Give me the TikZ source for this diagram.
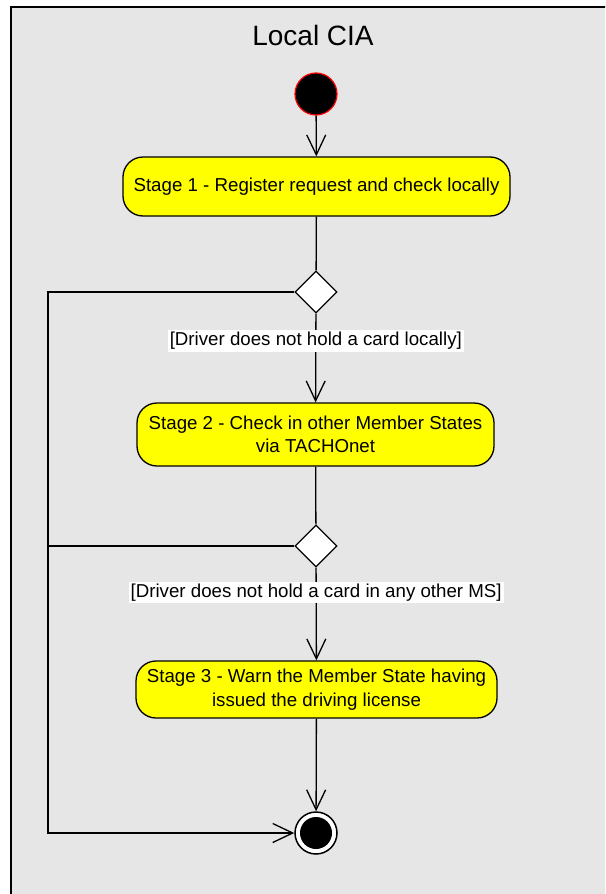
\documentclass[tikz,border=0pt]{standalone}
\usepackage{fontspec}
\setmainfont{Liberation Sans}
\usetikzlibrary{shapes.geometric,arrows.meta}
\definecolor{panelgray}{RGB}{230,230,230}
\definecolor{stagefill}{RGB}{255,255,0}
\tikzset{
  flow/.style={line width=1.3pt, -{Straight Barb[length=20pt,width=19pt,line width=1.3pt]}},
  plain/.style={line width=1.3pt},
  stage/.style={draw=black, line width=1.3pt, fill=stagefill, rounded corners=20pt,
    align=center, font=\fontsize{18.7}{23.5}\selectfont, inner sep=0pt},
  decision/.style={diamond, draw=black, line width=1.3pt, fill=white,
    minimum width=42pt, minimum height=42pt, inner sep=0pt},
  guard/.style={fill=white, font=\fontsize{18.7}{21}\selectfont, inner sep=2pt},
}
\begin{document}
\begin{tikzpicture}[x=1pt, y=-1pt]
  \useasboundingbox (0,0) rectangle (605,894);
  % swimlane panel, open to the right and below
  \begin{scope}
    \clip (0,0) rectangle (605,894);
    \draw[line width=1.6pt, fill=panelgray] (11,7) rectangle (800,1100);
  \end{scope}
  \node[font=\fontsize{28}{32}\selectfont] (title) at (313,35) {Local CIA};

  % initial state
  \node[circle, draw=red, line width=1.2pt, fill=black, minimum size=42pt, inner sep=0pt] (start) at (316,94) {};

  % activities
  \node[stage, minimum width=387pt, minimum height=59pt] (s1) at (316.5,186.5)
    {Stage 1 - Register request and check locally};
  \node[decision] (d1) at (316,292) {};
  \node[stage, minimum width=357pt, minimum height=63pt] (s2) at (315.5,434.5)
    {Stage 2 - Check in other Member States\\via TACHOnet};
  \node[decision] (d2) at (316,546) {};
  \node[stage, minimum width=361pt, minimum height=57pt] (s3) at (316.5,689.5)
    {Stage 3 - Warn the Member State having\\issued the driving license};

  % final state
  \node[circle, draw=black, line width=1.5pt, fill=white, minimum size=42pt, inner sep=0pt] (end) at (316,833) {};
  \fill (end.center) circle (16pt);

  \coordinate (c1) at (48,292);
  \coordinate (c2) at (48,833);

  % flows
  \draw[flow] (start) -- (s1);
  \draw[plain] (s1) -- (d1);
  \draw[flow] (d1) -- (s2) node[guard, pos=0.31] (g1) {[Driver does not hold a card locally]};
  \draw[plain] (s2) -- (d2);
  \draw[flow] (d2) -- (s3) node[guard, pos=0.27] (g2) {[Driver does not hold a card in any other MS]};
  \draw[flow] (s3) -- (end);
  \draw[plain] (d2.west) -- (48,546);
  \draw[flow] (d1.west) -- (c1) -- (c2) -- (end.west);
\end{tikzpicture}
\end{document}
